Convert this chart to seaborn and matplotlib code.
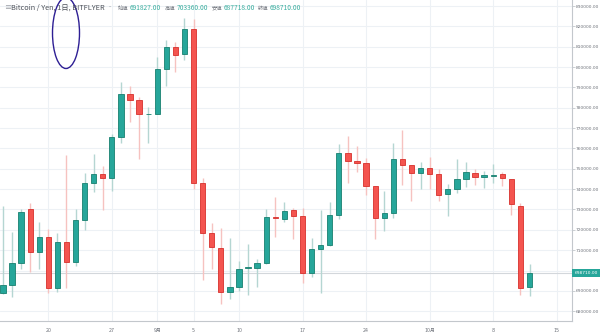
import matplotlib
matplotlib.use("Agg")
import matplotlib.pyplot as plt
import matplotlib.transforms as mtransforms
from matplotlib.patches import Ellipse
import numpy as np
import pandas as pd
import seaborn as sns

# Daily BTC/JPY candles (bitFlyer), 2018-08-15 .. 2018-10-12
dates = pd.date_range("2018-08-15", "2018-10-12", freq="D")
opens = [689100, 692800, 703600, 730100, 709000, 716600, 691600, 713900, 704200, 724800,
         743000, 747300, 745600, 765500, 786600, 783800, 776800, 777100, 798800, 809700,
         806300, 818700, 742900, 718600, 710900, 689500, 692000, 701200, 701400, 703600,
         726500, 725500, 729800, 727000, 698600, 710400, 712400, 727400, 757600, 754000,
         753000, 741500, 725800, 728100, 755000, 751900, 748100, 750500, 747400, 737500,
         739900, 745100, 748100, 746000, 746600, 747300, 745100, 731900, 691827]
highs = [731700, 719100, 730100, 733000, 724000, 720400, 718300, 756800, 730100, 748100,
         757100, 751400, 767000, 792800, 790700, 785400, 780500, 805100, 813300, 812200,
         824000, 823600, 745300, 723200, 721100, 716000, 704700, 712900, 705500, 730100,
         736300, 733500, 730600, 730600, 715800, 729800, 733800, 762200, 766100, 761200,
         755200, 741700, 739100, 762800, 769100, 752000, 753500, 755900, 749800, 742400,
         754700, 753200, 749800, 748900, 752400, 748300, 745100, 733000, 703360]
lows = [688700, 687200, 700600, 699100, 700700, 689100, 689600, 691300, 702400, 719900,
        738500, 729800, 739100, 762500, 773100, 754700, 762500, 776800, 790700, 797700,
        803500, 739900, 695400, 700600, 683600, 685900, 690100, 688000, 692100, 703400,
        716300, 724000, 715500, 693700, 697000, 689100, 712200, 725300, 742900, 748600,
        737100, 715400, 719600, 725700, 742000, 734300, 739900, 739900, 734300, 727000,
        738300, 741200, 742000, 740400, 742900, 741700, 727300, 688000, 687718]
closes = [692900, 703600, 728900, 709000, 716600, 691600, 713900, 704200, 724800, 743200,
          747300, 745600, 765500, 786600, 783800, 776800, 777100, 798900, 810000, 805900,
          818700, 743200, 718600, 711400, 689500, 691800, 700900, 701500, 703600, 726500,
          725700, 729300, 726800, 698600, 710400, 712400, 727400, 757600, 754000, 753000,
          741500, 725800, 728100, 755000, 751900, 748100, 750200, 747400, 737100, 739900,
          745100, 748600, 746000, 747100, 747100, 745600, 732700, 691300, 698710]

tick_dates = pd.to_datetime(["2018-08-20", "2018-08-27", "2018-09-01", "2018-09-05",
                             "2018-09-10", "2018-09-17", "2018-09-24", "2018-10-01",
                             "2018-10-08", "2018-10-15"])
tick_labels = ["20", "27", "9月", "5", "10", "17", "24", "10月", "8", "15"]
price_ticks = list(range(680000, 830001, 10000))
last_price = 698710

header_title = "Bitcoin / Yen, 1日, BITFLYER"
header_fields = [("始値", "691827.00"), ("高値", "703360.00"),
                 ("安値", "687718.00"), ("終値", "698710.00")]

sns.set_theme(style="white")
plt.rcParams["font.family"] = ["DejaVu Sans", "Noto Sans CJK JP"]

UP, UP_EDGE, UP_WICK = "#26a69a", "#17806f", "#b5d6d2"
DN, DN_EDGE, DN_WICK = "#f4544f", "#d7302c", "#f6c2c0"
GRID = "#edf1f5"
TXT = "#6f737b"

df = pd.DataFrame({"date": dates, "open": opens, "high": highs,
                   "low": lows, "close": closes})
df["x"] = (df["date"] - df["date"].iloc[0]).dt.days
df["up"] = df["close"] >= df["open"]

W, H = 600, 334
fig = plt.figure(figsize=(W / 100, H / 100), dpi=100)
ax = fig.add_axes([0, 13 / H, 572 / W, 321 / H])

# grid
for p in price_ticks:
    ax.axhline(p, color=GRID, lw=0.8, zorder=0)
tick_x = (tick_dates - df["date"].iloc[0]).days
for t in tick_x:
    ax.axvline(t, color=GRID, lw=0.8, zorder=0)

# last price line
ax.axhline(last_price, color="#d3d7db", lw=0.8, zorder=1)

# wicks
wick_colors = np.where(df["up"], UP_WICK, DN_WICK)
ax.vlines(df["x"], df["low"], df["high"], colors=wick_colors, lw=1.0, zorder=2)

# bodies
bottoms = np.minimum(df["open"], df["close"])
heights = np.abs(df["close"] - df["open"])
face = np.where(df["up"], UP, DN)
edge = np.where(df["up"], UP_EDGE, DN_EDGE)
ax.bar(df["x"], heights, bottom=bottoms, width=0.58, color=face,
       edgecolor=edge, linewidth=0.6, zorder=3)

ax.set_xlim(-0.32, 62.68)
ax.set_ylim(675200, 832950)

# axes styling
sns.despine(ax=ax, left=True, top=True, right=False, bottom=False)
for s in ("right", "bottom"):
    ax.spines[s].set_color("#c3c7cc")
    ax.spines[s].set_linewidth(0.8)

ax.set_xticks(tick_x)
ax.set_xticklabels(tick_labels)
ax.yaxis.tick_right()
ax.set_yticks(price_ticks)
ax.set_yticklabels(["" if p == 700000 else f"{p:.2f}" for p in price_ticks])
ax.tick_params(axis="x", length=2, width=0.6, color="#c3c7cc", pad=3,
               labelsize=3.4, labelcolor=TXT)
ax.tick_params(axis="y", length=2, width=0.6, color="#c3c7cc", pad=1,
               labelsize=3.2, labelcolor=TXT, right=True, left=False)

# last price tag on the price scale
blend = mtransforms.blended_transform_factory(ax.transAxes, ax.transData)
ax.text(1.004, last_price, f"{last_price:.2f}", transform=blend, ha="left",
        va="center", fontsize=3.2, color="white", clip_on=False,
        bbox=dict(boxstyle="square,pad=0.45", fc=UP, ec="none"))

# header
hdr_y = 1 - 8 / H
cjk = ["Noto Sans CJK JP", "DejaVu Sans"]
fig.text(4 / W, hdr_y, "≡", fontsize=5.0, color="#9a9ea5", va="center", family=cjk)
fig.text(11 / W, hdr_y, header_title, fontsize=5.3, color="#4d5159",
         va="center", family=cjk)
fig.text(107 / W, hdr_y, "·", fontsize=5.3, color="#8a8e95", va="center", family=cjk)
label_x = [118, 165, 212, 258]
for (lab, val), lx in zip(header_fields, label_x):
    fig.text(lx / W, hdr_y, lab, fontsize=3.8, color="#6f737b", va="center", family=cjk)
    fig.text((lx + 12) / W, hdr_y, val, fontsize=4.8, color="#3aae9f",
             va="center", family=cjk)

# hand-drawn circle mark
fig.patches.append(Ellipse((66 / W, 1 - 33 / H), 27 / W, 71 / H,
                           transform=fig.transFigure, fill=False,
                           edgecolor="#2e1f94", lw=1.0))

fig.savefig("out.png", dpi=100, facecolor="white")
